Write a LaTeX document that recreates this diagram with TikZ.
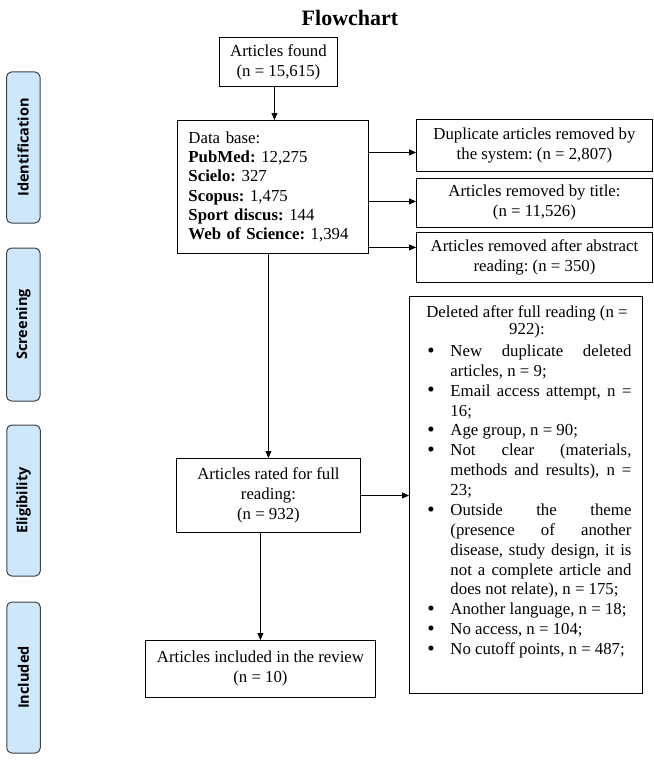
\documentclass[tikz,border=0pt]{standalone}
\usepackage{fontspec}
\usepackage{graphicx}
\setmainfont{Liberation Serif}
\newfontfamily\labelfont{Open Sans}
\usetikzlibrary{arrows.meta,calc}
\definecolor{phasefill}{RGB}{207,231,250}
\definecolor{phasedraw}{RGB}{64,64,64}
\newcommand\ditem{\par\noindent\llap{\makebox[23pt][l]{\raisebox{-0.6pt}{\smash{\scalebox{1.25}{\textbullet}}}}}}
\hbadness=10000
\frenchspacing
\begin{document}
\begin{tikzpicture}[x=1pt,y=-1pt,
  box/.style={draw=black, line width=0.9pt, fill=white, inner sep=0pt, anchor=north west, align=center, font=\fontsize{16.8}{20}\selectfont},
  arr/.style={line width=0.9pt, -{Triangle[length=7pt,width=6pt]}},
  phase/.style={draw=phasedraw, line width=1pt, fill=phasefill, rounded corners=5pt, rotate=90, minimum height=33.5pt, inner sep=0pt, font=\labelfont\bfseries\fontsize{14.5}{16}\selectfont},
  titlestyle/.style={font=\bfseries\fontsize{22}{26}\selectfont, anchor=base, inner sep=0pt}
]
\useasboundingbox (0,0) rectangle (653,760);
\node[titlestyle] (title) at (350,26) {Flowchart};

% phase labels
\node[phase, minimum width=151pt] (ident) at (23.25,147.5) {Identification};
\node[phase, minimum width=153pt] (screen) at (23.25,324.5) {Screening};
\node[phase, minimum width=151pt] (elig) at (23.5,500.5) {Eligibility};
\node[phase, minimum width=151pt] (incl-l) at (23.5,677.5) {Included};

% boxes
\node[box, minimum width=118pt, minimum height=49pt] (found) at (219,37) {Articles found\\(n = 15,615)};
\node[box, align=left, text width=169pt, inner xsep=11pt, minimum height=133pt, font=\fontsize{16.8}{19.2}\selectfont] (db) at (177,120)
  {Data base:\\ \textbf{PubMed:} 12,275\\ \textbf{Scielo:} 327\\ \textbf{Scopus:} 1,475\\ \textbf{Sport discus:} 144\\ \textbf{Web of Science:} 1,394};
\node[box, minimum width=236pt, minimum height=52pt] (dup) at (416,119) {Duplicate articles removed by\\the system: (n = 2,807)};
\node[box, minimum width=236pt, minimum height=49pt] (ttl) at (416,178) {Articles removed by title:\\(n = 11,526)};
\node[box, minimum width=236pt, minimum height=50pt] (abs) at (416,232) {Articles removed after abstract\\reading: (n = 350)};
\node[box, minimum width=233pt, minimum height=397pt] (del) at (409,296) {\parbox[t][397pt][t]{233pt}{%
  \fontsize{16.8}{17}\selectfont
  \leftskip=13pt plus 1fil \rightskip=11pt plus 1fil \parfillskip=0pt \parindent=0pt
  \rule{0pt}{21pt}Deleted after full reading (n =\break 922):\par
  \vspace{2.13pt}
  \leftskip=41pt \rightskip=11pt \parfillskip=0pt plus 1fil \baselineskip=19.87pt
  \ditem New duplicate deleted\linebreak articles, n = 9;
  \ditem Email access attempt, n =\linebreak 16;
  \ditem Age group, n = 90;
  \ditem Not clear (materials,\linebreak methods and results), n =\linebreak 23;
  \ditem Outside the theme\linebreak (presence of another\linebreak disease, study design, it is\linebreak not a complete article and\linebreak does not relate), n = 175;
  \ditem Another language, n = 18;
  \ditem No access, n = 104;
  \ditem No cutoff points, n = 487;\par}};
\node[box, minimum width=184pt, minimum height=74pt] (rated) at (176,458) {Articles rated for full\\reading:\\(n = 932)};
\node[box, minimum width=230pt, minimum height=57pt] (incl) at (145,640) {Articles included in the review\\(n = 10)};

% connectors
\coordinate (a1) at ([yshift=-7pt]dup.west);
\coordinate (a2) at ([yshift=1.5pt]ttl.west);
\coordinate (a3) at ([yshift=10pt]abs.west);
\coordinate (a0) at ([xshift=-4pt]found.south);
\draw[arr] (a0) -- (a0 |- db.north);
\draw[arr] (db.east |- a1) -- (a1);
\draw[arr] (db.east |- a2) -- (a2);
\draw[arr] (db.east |- a3) -- (a3);
\draw[arr] (db.south -| rated.north) -- (rated.north);
\draw[arr] (rated.east) -- (rated.east -| del.west);
\draw[arr] (rated.south -| incl.north) -- (incl.north);
\end{tikzpicture}
\end{document}
